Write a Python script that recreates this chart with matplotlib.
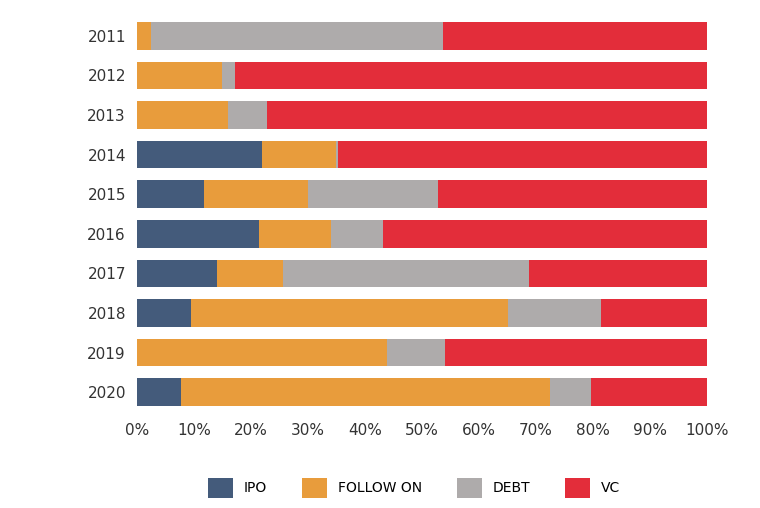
import numpy as np
import matplotlib.pyplot as plt

years = ["2011", "2012", "2013", "2014", "2015", "2016", "2017", "2018", "2019", "2020"]
ipo = [0, 0, 0, 21.9, 11.8, 21.4, 14.0, 9.5, 0, 7.7]
follow_on = [2.5, 14.9, 16.0, 13.0, 18.2, 12.6, 11.6, 55.6, 43.9, 64.8]
debt = [51.2, 2.3, 6.8, 0.3, 22.8, 9.2, 43.2, 16.3, 10.1, 7.1]
vc = [100 - a - b - c for a, b, c in zip(ipo, follow_on, debt)]

series = [("IPO", ipo, "#445b7b"), ("FOLLOW ON", follow_on, "#e89c3c"),
          ("DEBT", debt, "#aeabab"), ("VC", vc, "#e32d3a")]

fig = plt.figure(figsize=(7.6, 5.08), dpi=100)
ax = fig.add_axes([137/760, 1 - 412/508, 570/760, 396/508])
y = np.arange(len(years))
left = np.zeros(len(years))
for name, vals, col in series:
    ax.barh(y, vals, left=left, height=0.7, color=col, label=name)
    left += np.array(vals)

ax.set_ylim(len(years) - 0.5, -0.5)
ax.set_xlim(0, 100)
ax.set_yticks(y)
ax.set_yticklabels(years, fontsize=11)
ax.set_xticks(np.arange(0, 101, 10))
ax.set_xticklabels([f"{v}%" for v in range(0, 101, 10)], fontsize=11)
ax.tick_params(length=0, colors="#333333", pad=8)
for s in ax.spines.values():
    s.set_visible(False)

fig.legend(loc="center", bbox_to_anchor=(0.545, 1 - 488/508), ncol=4, frameon=False,
           fontsize=10, handlelength=1.8, handleheight=1.8, columnspacing=2.5)
fig.savefig("out.png", dpi=100)
